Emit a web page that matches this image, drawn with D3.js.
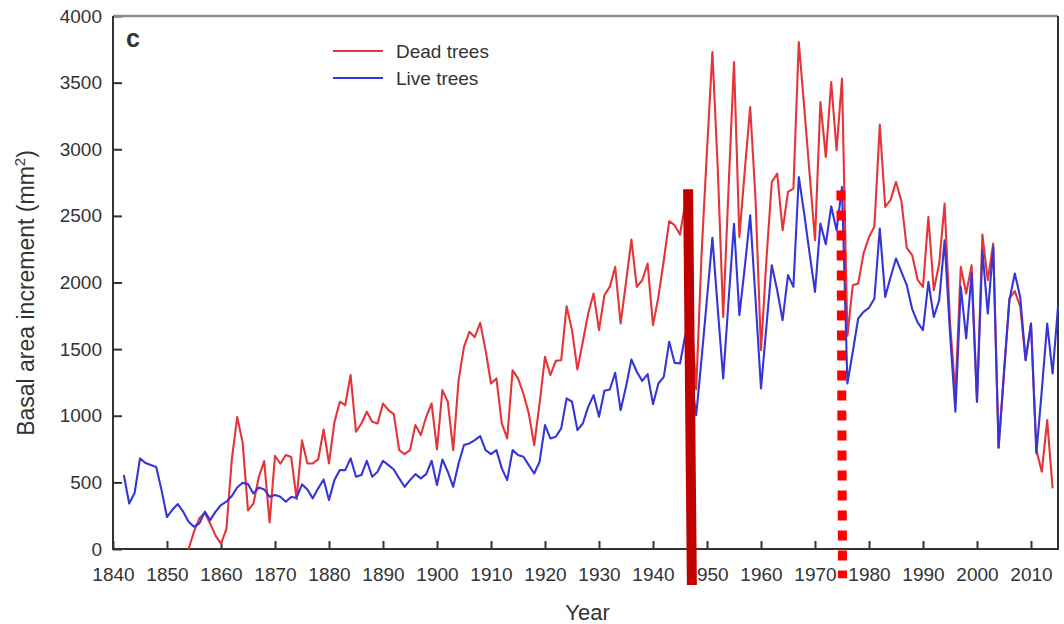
<!DOCTYPE html>
<html>
<head>
<meta charset="utf-8">
<script src="https://cdn.jsdelivr.net/npm/d3@7"></script>
<style>
  body { margin: 0; background: #fff; }
  text { font-family: "Liberation Sans", Arial, sans-serif; fill: #333; }
</style>
</head>
<body>
<svg id="chart"></svg>
<script>
// live trees, 1842-2015
const liveStart = 1842;
const liveValues = [
  555, 342, 420, 680, 645, 630, 615, 440, 240, 295,
  337, 280, 205, 167, 192, 280, 217, 280, 330, 355,
  397, 462, 497, 487, 417, 462, 447, 392, 405, 392,
  355, 390, 385, 485, 447, 380, 455, 522, 367, 517,
  592, 592, 680, 542, 555, 662, 542, 580, 662, 630,
  597, 530, 467, 517, 562, 530, 562, 662, 480, 672,
  580, 467, 642, 780, 792, 817, 847, 742, 712, 742,
  605, 517, 742, 705, 692, 630, 567, 655, 930, 830,
  842, 905, 1130, 1105, 892, 942, 1067, 1155, 992, 1187,
  1197, 1322, 1042, 1217, 1422, 1330, 1262, 1312, 1087, 1242,
  1292, 1555, 1397, 1392, 1610, 1300, 1005, 1430, 1880, 2335,
  1800, 1280, 1867, 2440, 1755, 2117, 2505, 1867, 1205, 1667,
  2130, 1942, 1717, 2055, 1967, 2792, 2517, 2217, 1930, 2442,
  2287, 2572, 2392, 2717, 1242, 1480, 1730, 1780, 1810, 1880,
  2405, 1892, 2042, 2180, 2080, 1980, 1800, 1700, 1642, 2005,
  1742, 1867, 2317, 1620, 1030, 1967, 1580, 2067, 1105, 2242,
  1767, 2267, 760, 1330, 1867, 2067, 1892, 1417, 1692, 717,
  1190, 1692, 1317, 1817
];

// dead trees, 1854-2014
const deadStart = 1854;
const deadValues = [
  0, 130, 230, 272, 190, 100, 40, 150, 670, 990,
  800, 290, 340, 540, 660, 200, 700, 640, 705, 690,
  375, 815, 642, 642, 672, 897, 642, 950, 1105, 1080,
  1305, 880, 942, 1030, 955, 942, 1092, 1042, 1012, 742,
  712, 742, 930, 855, 992, 1092, 747, 1192, 1105, 742,
  1267, 1517, 1630, 1590, 1697, 1492, 1242, 1280, 942, 830,
  1342, 1280, 1167, 1017, 780, 1092, 1442, 1305, 1412, 1417,
  1822, 1642, 1347, 1555, 1767, 1917, 1642, 1905, 1967, 2117,
  1692, 2000, 2322, 1967, 2017, 2142, 1680, 1892, 2167, 2460,
  2430, 2360, 2600, 1800, 1200, 2220, 2990, 3730, 2850, 1742,
  2717, 3655, 2342, 2842, 3317, 2617, 1492, 2167, 2755, 2817,
  2392, 2680, 2705, 3805, 3317, 2817, 2317, 3355, 2942, 3505,
  2992, 3530, 1600, 1980, 1992, 2220, 2340, 2420, 3185, 2567,
  2620, 2755, 2610, 2260, 2205, 2020, 1967, 2492, 1942, 2142,
  2592, 1700, 1167, 2117, 1917, 2130, 1105, 2360, 2017, 2292,
  760, 1315, 1880, 1935, 1820, 1420, 1692, 742, 580, 967,
  455
];

const xTicks = d3.range(1840, 2011, 10);
const yTicks = d3.range(0, 4001, 500);
const seriesNames = ['Dead trees', 'Live trees'];
// hand-drawn markers: [year top, value top, year bottom, value bottom]
const solidMark = [1946.5, 2700, 1947.2, -270];
const dottedMark = [1974.8, 2690, 1975.1, -220];

const W = 1064, H = 624;
const margin = { top: 16, right: 6, bottom: 75, left: 113 };
const width = W - margin.left - margin.right;
const height = H - margin.top - margin.bottom;

const red = '#e3353a';
const blue = '#3535d8';

const svg = d3.select('#chart')
    .attr('width', W)
    .attr('height', H);

const g = svg.append('g')
    .attr('transform', `translate(${margin.left},${margin.top})`);

const x = d3.scaleLinear().domain([1840, 2015]).range([0, width]);
const y = d3.scaleLinear().domain([0, 4000]).range([height, 0]);

const live = liveValues.map((v, i) => ({ year: liveStart + i, v }));
const dead = deadValues.map((v, i) => ({ year: deadStart + i, v }));

const line = d3.line()
    .x(d => x(d.year))
    .y(d => y(d.v));

// axes
const yAxis = g.append('g')
    .call(d3.axisLeft(y).tickValues(yTicks).tickFormat(d3.format('d'))
      .tickSize(-9).tickPadding(11));
const xAxis = g.append('g')
    .attr('transform', `translate(0,${height})`)
    .call(d3.axisBottom(x).tickValues(xTicks).tickFormat(d3.format('d'))
      .tickSize(-8).tickPadding(19));

[yAxis, xAxis].forEach(a => {
  a.select('.domain').remove();
  a.selectAll('line').attr('stroke', '#333').attr('stroke-width', 2);
  a.selectAll('text').style('font-size', '19px').attr('fill', '#333');
});

// frame
g.append('line').attr('x1', 0).attr('x2', width).attr('y1', 0).attr('y2', 0)
    .attr('stroke', '#8a8a8a').attr('stroke-width', 2.5);
g.append('path')
    .attr('d', `M0,0V${height}H${width}V0`)
    .attr('fill', 'none').attr('stroke', '#333').attr('stroke-width', 2);

g.append('path').datum(dead)
    .attr('d', line).attr('fill', 'none')
    .attr('stroke', red).attr('stroke-width', 2.1).attr('stroke-linejoin', 'round');
g.append('path').datum(live)
    .attr('d', line).attr('fill', 'none')
    .attr('stroke', blue).attr('stroke-width', 2.1).attr('stroke-linejoin', 'round');

// markers
g.append('line')
    .attr('x1', x(solidMark[0])).attr('y1', y(solidMark[1]))
    .attr('x2', x(solidMark[2])).attr('y2', y(solidMark[3]))
    .attr('stroke', '#c00000').attr('stroke-width', 10);
g.append('line')
    .attr('x1', x(dottedMark[0])).attr('y1', y(dottedMark[1]))
    .attr('x2', x(dottedMark[2])).attr('y2', y(dottedMark[3]))
    .attr('stroke', '#ff0000').attr('stroke-width', 9)
    .attr('stroke-dasharray', '10,10');

// legend
const legend = g.append('g').attr('transform', 'translate(220,35)');
[red, blue].forEach((c, i) => {
  legend.append('line')
      .attr('x1', 0).attr('x2', 50)
      .attr('y1', i * 27).attr('y2', i * 27)
      .attr('stroke', c).attr('stroke-width', 2);
  legend.append('text')
      .attr('x', 63).attr('y', i * 27).attr('dy', '0.35em')
      .style('font-size', '19px')
      .text(seriesNames[i]);
});

// panel letter
g.append('text')
    .attr('x', 13).attr('y', 31)
    .style('font-size', '25px').style('font-weight', 'bold')
    .text('c');

// axis titles
svg.append('text')
    .attr('x', margin.left + width / 2 + 2).attr('y', 620)
    .attr('text-anchor', 'middle')
    .style('font-size', '22px')
    .text('Year');

const yl = svg.append('text')
    .attr('transform', 'translate(34,293) rotate(-90)')
    .attr('text-anchor', 'middle')
    .style('font-size', '23px');
yl.append('tspan').text('Basal area increment (mm');
yl.append('tspan').attr('dy', -9).style('font-size', '15px').text('2');
yl.append('tspan').attr('dy', 9).text(')');
</script>
</body>
</html>
